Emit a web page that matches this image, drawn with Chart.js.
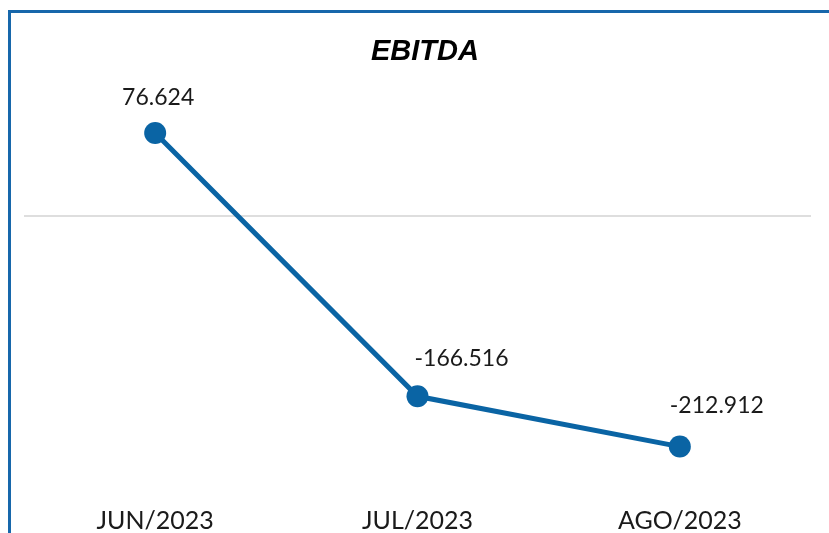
<!DOCTYPE html>
<html>
<head>
<meta charset="utf-8">
<script src="https://cdn.jsdelivr.net/npm/chart.js@4.4.0/dist/chart.umd.min.js"></script>
<style>
  body { margin: 0; background: #fff; overflow: hidden; }
  #wrap { position: relative; width: 829px; height: 533px; }
  #frame {
    position: absolute; left: 8px; top: 10px; right: -10px; bottom: -10px;
    border-left: 3px solid #1767ab; border-top: 3px solid #1767ab;
    pointer-events: none;
  }
</style>
</head>
<body>
<div id="wrap">
  <canvas id="ebitda-chart" width="829" height="533"></canvas>
  <div id="frame"></div>
</div>
<script>
// data
const months = ['JUN/2023', 'JUL/2023', 'AGO/2023'];
const ebitda = [76.624, -166.516, -212.912];
const valueLabels = ['76.624', '-166.516', '-212.912'];
const chartTitle = 'EBITDA';

// label offsets from each point (px)
const labelShift = [[3, -35], [44, -38], [37, -41]];

const pointLabels = {
  id: 'pointLabels',
  afterDatasetsDraw(chart) {
    const ctx = chart.ctx;
    const meta = chart.getDatasetMeta(0);
    ctx.save();
    ctx.font = '23px Lato';
    ctx.fillStyle = '#1a1a1a';
    ctx.textAlign = 'center';
    ctx.textBaseline = 'middle';
    meta.data.forEach((pt, i) => {
      ctx.fillText(valueLabels[i], pt.x + labelShift[i][0], pt.y + labelShift[i][1]);
    });
    // title sits a bit right of the plot centre in the original
    ctx.font = 'italic bold 29px "Liberation Sans"';
    ctx.fillStyle = '#000';
    ctx.fillText(chartTitle, 425, 52);
    ctx.restore();
  }
};

const ctx = document.getElementById('ebitda-chart').getContext('2d');
new Chart(ctx, {
  type: 'line',
  data: {
    labels: months,
    datasets: [{
      label: 'EBITDA',
      data: ebitda,
      borderColor: '#0a64a4',
      backgroundColor: '#0a64a4',
      borderWidth: 5,
      pointRadius: 11,
      pointHoverRadius: 11,
      pointBorderWidth: 0,
      fill: false,
      tension: 0
    }]
  },
  options: {
    responsive: false,
    animation: false,
    layout: { padding: { left: 24, right: 18, top: 86, bottom: 0 } },
    plugins: {
      legend: { display: false },
      tooltip: { enabled: false },
      title: { display: false }
    },
    scales: {
      x: {
        offset: true,
        grid: { display: false, drawTicks: false },
        border: { display: false },
        ticks: { color: '#1a1a1a', font: { family: 'Lato', size: 25 }, padding: 3 },
        afterFit(axis) { axis.height = 30; }
      },
      y: {
        min: -265,
        max: 120,
        border: { display: false },
        ticks: { display: false },
        afterBuildTicks(axis) { axis.ticks = [{ value: 0 }]; },
        afterFit(axis) { axis.width = 0; },
        grid: { color: '#dedede', lineWidth: 2, drawTicks: false }
      }
    }
  },
  plugins: [pointLabels]
});
</script>
</body>
</html>
